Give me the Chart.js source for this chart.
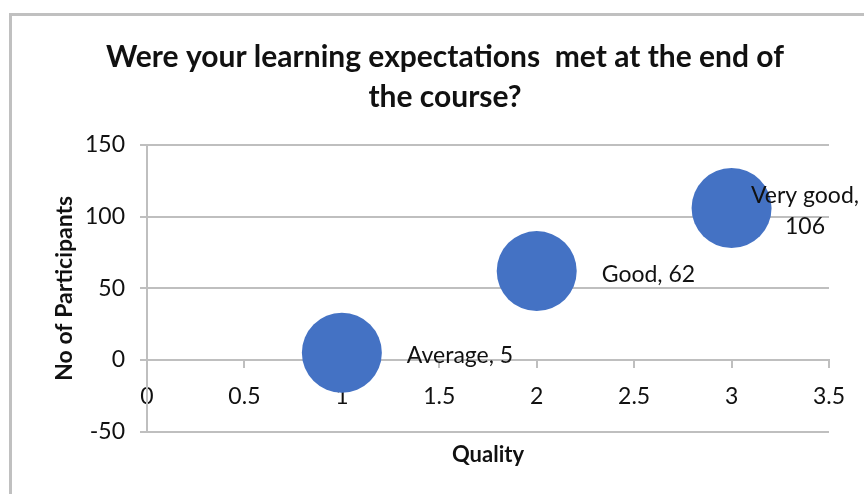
<!DOCTYPE html>
<html>
<head>
<meta charset="utf-8">
<script src="https://cdn.jsdelivr.net/npm/chart.js@4/dist/chart.umd.min.js"></script>
<style>
  html, body { margin: 0; padding: 0; background: #fff; overflow: hidden; }
  #wrap { position: absolute; left: 0; top: 0; width: 890px; height: 494px; }
  #frame { position: absolute; left: 9px; top: 13px; width: 900px; height: 600px;
           border: 3px solid #c0c0c0; box-sizing: border-box; pointer-events: none; }
</style>
</head>
<body>
<div id="frame"></div>
<div id="wrap"><canvas id="chart" width="890" height="494"></canvas></div>
<script>
const categories = ['Average', 'Good', 'Very good'];
const quality = [1, 2, 3];
const participants = [5, 62, 106];
const xTicks = [0, 0.5, 1, 1.5, 2, 2.5, 3, 3.5];
const yTicks = [-50, 0, 50, 100, 150];

const GRID = '#bfbfbf';
const TEXT = '#111';
const LABEL_FONT = '23px Lato';

// data labels to the right of each bubble, wrapped when they run off the chart
const bubbleLabels = {
  id: 'bubbleLabels',
  afterDatasetsDraw(chart) {
    const { ctx } = chart;
    const meta = chart.getDatasetMeta(0);
    const limit = chart.width - 31;
    ctx.save();
    ctx.font = LABEL_FONT;
    ctx.fillStyle = TEXT;
    ctx.textBaseline = 'middle';
    meta.data.forEach((pt, i) => {
      const text = categories[i] + ', ' + participants[i];
      const r = pt.options.radius;
      let left = pt.x + r + 25;
      const y = pt.y + 3;
      if (left + ctx.measureText(text).width <= limit) {
        ctx.textAlign = 'left';
        ctx.fillText(text, left, y);
        return;
      }
      const lines = [categories[i] + ',', String(participants[i])];
      const w = Math.max(...lines.map(l => ctx.measureText(l).width));
      left = Math.min(left, limit - w);
      const lh = 31;
      ctx.textAlign = 'center';
      lines.forEach((l, k) => {
        ctx.fillText(l, left + w / 2, y + (k - (lines.length - 1) / 2) * lh);
      });
    });
    ctx.restore();
  }
};

new Chart(document.getElementById('chart'), {
  type: 'bubble',
  data: {
    datasets: [{
      label: 'Participants',
      data: quality.map((q, i) => ({ x: q, y: participants[i] })),
      xAxisID: 'x',
      yAxisID: 'y',
      backgroundColor: '#4472C4',
      borderColor: '#4472C4',
      borderWidth: 0,
      radius: 40,
    }],
  },
  options: {
    responsive: false,
    animation: false,
    events: [],
    layout: { padding: { left: 0, right: 0, top: 0, bottom: 26 } },
    plugins: {
      legend: { display: false },
      tooltip: { enabled: false },
      title: {
        display: true,
        text: ['Were your learning expectations  met at the end of', 'the course?'],
        color: TEXT,
        font: { family: 'Lato', size: 30, weight: 'bold', lineHeight: 1.333 },
        padding: { top: 37, bottom: 28 },
      },
    },
    scales: {
      x: {
        type: 'linear',
        position: { y: 0 },
        min: 0,
        max: 3.5,
        afterBuildTicks: scale => { scale.ticks = xTicks.map(v => ({ value: v })); },
        grid: { drawOnChartArea: false, drawTicks: true, tickLength: 7, color: GRID, lineWidth: 2 },
        border: { display: true, color: GRID, width: 2 },
        ticks: {
          color: TEXT,
          font: { family: 'Lato', size: 23 },
          padding: 16,
          maxRotation: 0,
          callback: v => String(v),
        },
      },
      y: {
        type: 'linear',
        min: -50,
        max: 150,
        afterBuildTicks: scale => { scale.ticks = yTicks.map(v => ({ value: v })); },
        afterFit: scale => { scale.width = 147; },
        grid: { color: GRID, lineWidth: 2, tickLength: 7 },
        border: { display: true, color: GRID, width: 2 },
        ticks: { color: TEXT, font: { family: 'Lato', size: 23 }, padding: 15 },
        title: {
          display: true,
          text: 'No of Participants',
          color: TEXT,
          font: { family: 'Lato', size: 23, weight: 'bold', lineHeight: 1.2 },
          padding: { top: 51, bottom: 0 },
        },
      },
      xq: {
        type: 'linear',
        position: 'bottom',
        min: 0,
        max: 1,
        grid: { display: false, drawTicks: false },
        border: { display: false },
        ticks: { display: false },
        title: {
          display: true,
          text: 'Quality',
          color: TEXT,
          font: { family: 'Lato', size: 22, weight: 'bold', lineHeight: 1.2 },
          padding: { top: 10, bottom: 0 },
        },
      },
      // empty right-hand axis, only reserves the margin right of the plot
      yr: {
        type: 'linear',
        position: 'right',
        min: 0,
        max: 1,
        grid: { display: false, drawTicks: false },
        border: { display: false },
        ticks: { display: false },
        afterFit: scale => { scale.width = 61; },
      },
    },
  },
  plugins: [bubbleLabels],
});
</script>
</body>
</html>
